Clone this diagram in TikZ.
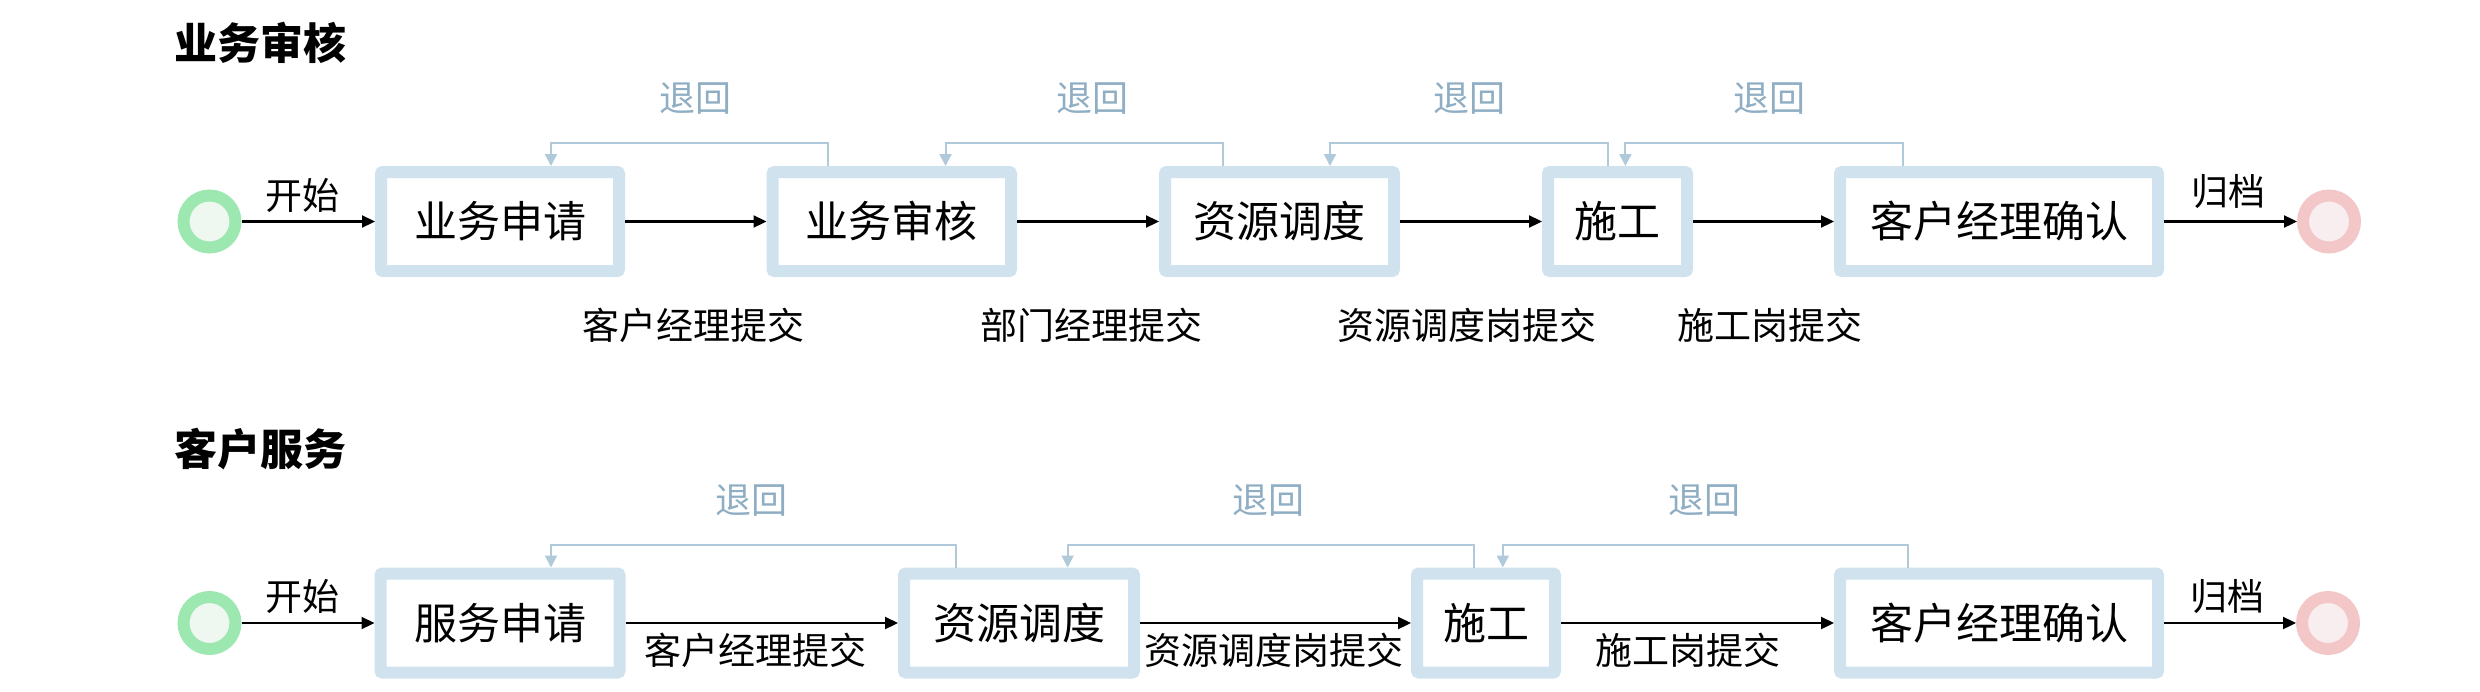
\documentclass[tikz,border=0pt]{standalone}
\usepackage{fontspec}
\newfontfamily\cjk{Noto Sans CJK SC}
\usetikzlibrary{arrows.meta,calc}
\definecolor{boxc}{HTML}{CFE2EE}
\definecolor{backc}{HTML}{B0CADC}
\definecolor{backtxt}{HTML}{8FAEC4}
\definecolor{startring}{HTML}{9DE8B0}
\definecolor{startin}{HTML}{EEF7F0}
\definecolor{endring}{HTML}{F3C7C7}
\definecolor{endin}{HTML}{F8EEF0}
\begin{document}
\begin{tikzpicture}[x=1pt,y=-1pt,
  proc/.style={draw=boxc, line width=12pt, rounded corners=2pt, fill=white, minimum height=99pt, inner sep=0pt, font=\cjk\fontsize{43}{50}\selectfont, text=black},
  startc/.style={circle, draw=startring, fill=startin, line width=12pt, minimum size=52pt, inner sep=0pt},
  endc/.style={circle, draw=endring, fill=endin, line width=12pt, minimum size=52pt, inner sep=0pt},
  flow/.style={draw=black, line width=2.2pt, -{Triangle[length=13pt,width=12pt]}},
  back/.style={draw=backc, line width=2pt, -{Triangle[length=12pt,width=12pt]}},
  lbl/.style={font=\cjk\fontsize{37}{44}\selectfont, inner sep=0pt, text=black},
  backlbl/.style={font=\cjk\fontsize{36}{44}\selectfont, inner sep=0pt, text=backtxt},
  ttl/.style={font=\cjk\bfseries\fontsize{43}{50}\selectfont, inner sep=0pt, anchor=west, text=black}]
\useasboundingbox (0,0) rectangle (2480,691);

% ---------- Row 1 ----------
\node[ttl] (t1) at (174,42.5) {业务审核};
\node[startc] (s1) at (209.5,221.5) {};
\node[proc, minimum width=238pt] (a1) at (500,221.5) {业务申请};
\node[proc, minimum width=238.5pt] (a2) at (891.75,221.5) {业务审核};
\node[proc, minimum width=229pt] (a3) at (1279.5,221.5) {资源调度};
\node[proc, minimum width=139pt] (a4) at (1617.5,221.5) {施工};
\node[proc, minimum width=318pt] (a5) at (1999,221.5) {客户经理确认};
\node[endc] (e1) at (2329,221.5) {};

\draw[flow] (s1) -- node[lbl, xshift=-6pt, yshift=26.5pt] {开始} (a1);
\draw[flow] (a1) -- node[lbl, xshift=-2.5pt, yshift=-103.5pt] {客户经理提交} (a2);
\draw[flow] (a2) -- node[lbl, xshift=3.5pt, yshift=-103.5pt] {部门经理提交} (a3);
\draw[flow] (a3) -- node[lbl, xshift=-4pt, yshift=-103.5pt] {资源调度岗提交} (a4);
\draw[flow] (a4) -- node[lbl, xshift=6.5pt, yshift=-103.5pt] {施工岗提交} (a5);
\draw[flow] (a5) -- node[lbl, xshift=-2pt, yshift=29.5pt] {归档} (e1);

\draw[back] ([xshift=-63.75pt]a2.north) -- ++(0,-23) -| node[pos=0.25, backlbl, xshift=5.5pt, yshift=44pt] {退回} ([xshift=51pt]a1.north);
\draw[back] ([xshift=-56.5pt]a3.north) -- ++(0,-23) -| node[pos=0.25, backlbl, xshift=8pt, yshift=44pt] {退回} ([xshift=53.75pt]a2.north);
\draw[back] ([xshift=-9.8pt]a4.north) -- ++(0,-23) -| node[pos=0.25, backlbl, xshift=1pt, yshift=44pt] {退回} ([xshift=50.5pt]a3.north);
\draw[back] ([xshift=-96pt]a5.north) -- ++(0,-23) -| node[pos=0.25, backlbl, xshift=5pt, yshift=44pt] {退回} ([xshift=7.9pt]a4.north);

% ---------- Row 2 ----------
\node[ttl] (t2) at (174,449) {客户服务};
\node[startc] (s2) at (209.5,623) {};
\node[proc, minimum width=239pt] (b1) at (500,623) {服务申请};
\node[proc, minimum width=230pt] (b2) at (1019,623) {资源调度};
\node[proc, minimum width=138pt] (b3) at (1486,623) {施工};
\node[proc, minimum width=318pt] (b4) at (1999,623) {客户经理确认};
\node[endc] (e2) at (2328,623) {};

\draw[flow] (s2) -- node[lbl, xshift=-6pt, yshift=27pt] {开始} (b1);
\draw[flow] (b1) -- node[lbl, xshift=-6.75pt, yshift=-27pt] {客户经理提交} (b2);
\draw[flow] (b2) -- node[lbl, xshift=-1.25pt, yshift=-27pt] {资源调度岗提交} (b3);
\draw[flow] (b3) -- node[lbl, xshift=-9.5pt, yshift=-27pt] {施工岗提交} (b4);
\draw[flow] (b4) -- node[lbl, xshift=-3pt, yshift=26pt] {归档} (e2);

\draw[back] ([xshift=-63pt]b2.north) -- ++(0,-23) -| node[pos=0.25, backlbl, xshift=-2pt, yshift=44pt] {退回} ([xshift=51pt]b1.north);
\draw[back] ([xshift=-12pt]b3.north) -- ++(0,-23) -| node[pos=0.25, backlbl, xshift=-2pt, yshift=44pt] {退回} ([xshift=48.6pt]b2.north);
\draw[back] ([xshift=-91pt]b4.north) -- ++(0,-23) -| node[pos=0.25, backlbl, xshift=-1pt, yshift=44pt] {退回} ([xshift=16.8pt]b3.north);
\end{tikzpicture}
\end{document}
